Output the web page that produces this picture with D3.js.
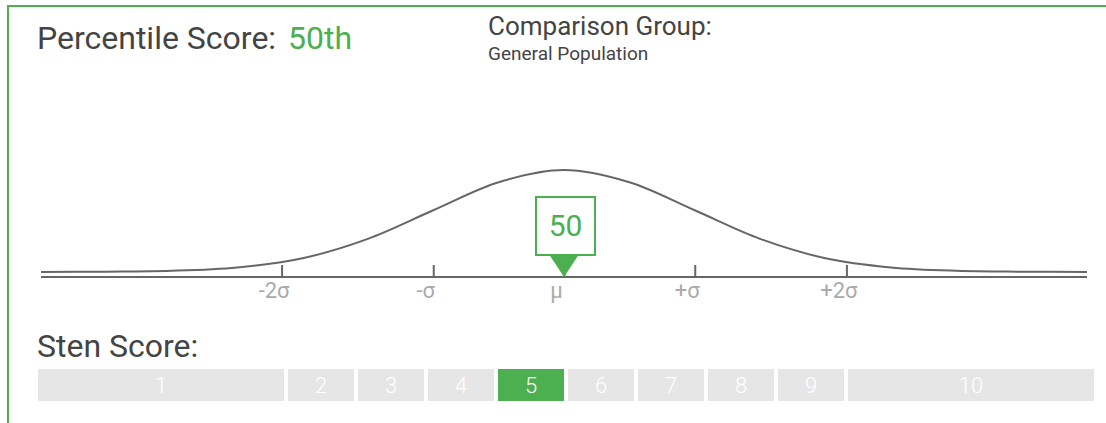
<!DOCTYPE html>
<html>
<head>
<meta charset="utf-8">
<script src="https://cdn.jsdelivr.net/npm/d3@7"></script>
<style>
  body { margin: 0; background: #fff; }
  text { font-family: Roboto, "Noto Sans", sans-serif; }
</style>
</head>
<body>
<script>
// Percentile / sten score card

// data
var percentile = 50;
var percentileZ = 0;          // position of the score on the sigma axis
var stenScore = 5;
var comparisonGroup = "General Population";

// bell curve (sigma, height relative to peak)
var curveZ = [-4, -3.5, -3, -2.5, -2, -1.5, -1, -0.5, 0, 0.5, 1, 1.5, 2, 2.5, 3, 3.5, 4];
var curveH = [0, 0.003, 0.012, 0.045, 0.135, 0.325, 0.605, 0.88, 1, 0.88, 0.605, 0.325, 0.135, 0.045, 0.012, 0.003, 0];

// axis ticks
var tickZ = [-2.16, -1, 0, 1, 2.16];
var tickLabels = ["-2\u03c3", "-\u03c3", "\u03bc", "+\u03c3", "+2\u03c3"];

// sten bands
var stenLabels = ["1", "2", "3", "4", "5", "6", "7", "8", "9", "10"];
var stenWeights = [25, 7, 7, 7, 7, 7, 7, 7, 7, 25];

// Width and height
var w = 1106;
var h = 423;
var green = "#4caf50";

var svg = d3.select("body")
    .append("svg")
    .attr("width", w)
    .attr("height", h);

// card border (top and left visible)
svg.append("line")
    .attr("x1", 7).attr("x2", w)
    .attr("y1", 6).attr("y2", 6)
    .style("stroke", green).style("stroke-width", 2);
svg.append("line")
    .attr("x1", 8).attr("x2", 8)
    .attr("y1", 5).attr("y2", h)
    .style("stroke", green).style("stroke-width", 2);

// headings
var title = svg.append("text")
    .attr("x", 37)
    .attr("y", 49)
    .style("font-size", "32px")
    .style("fill", "#444");
title.append("tspan").text("Percentile Score:");
title.append("tspan")
    .attr("dx", 12)
    .style("fill", green)
    .text(percentile + "th");

svg.append("text")
    .attr("x", 488)
    .attr("y", 35)
    .style("font-size", "26px")
    .style("fill", "#444")
    .text("Comparison Group:");

svg.append("text")
    .attr("x", 488)
    .attr("y", 60)
    .style("font-size", "19px")
    .style("fill", "#444")
    .text(comparisonGroup);

// Scale functions
var xScale = d3.scaleLinear()
    .domain([-4, 4])
    .range([41, 1087]);

var yScale = d3.scaleLinear()
    .domain([0, 1])
    .range([272, 170]);

var axisY = 277;

// bell curve
var line = d3.line()
    .curve(d3.curveCatmullRom)
    .x(function(d, i) { return xScale(curveZ[i]); })
    .y(function(d) { return yScale(d); });

svg.append("path")
    .datum(curveH)
    .attr("d", line)
    .style("fill", "none")
    .style("stroke", "#666")
    .style("stroke-width", 2);

// sigma axis
var xAxis = d3.axisBottom(xScale)
    .tickValues(tickZ)
    .tickSize(0)
    .tickFormat(function(d, i) { return tickLabels[i]; });

var gAxis = svg.append("g")
    .attr("transform", "translate(0," + axisY + ")")
    .call(xAxis);
gAxis.select(".domain")
    .attr("d", "M" + xScale(-4) + ",0H" + xScale(4))
    .style("stroke", "#666")
    .style("stroke-width", 2);
gAxis.selectAll(".tick line")
    .attr("y2", -12)
    .style("stroke", "#666")
    .style("stroke-width", 2);
gAxis.selectAll(".tick text")
    .attr("y", 21)
    .attr("dy", 0)
    .attr("dx", -8)
    .style("font-family", "Roboto, sans-serif")
    .style("font-size", "22px")
    .style("fill", "#aaa");

// score marker
var mx = xScale(percentileZ);
var marker = svg.append("g");
marker.append("path")
    .attr("d", "M" + (mx - 14.5) + "," + 255 + "L" + (mx + 14.5) + "," + 255 + "L" + mx + "," + axisY + "Z")
    .style("fill", green);
marker.append("rect")
    .attr("x", mx - 28)
    .attr("y", 197)
    .attr("width", 59)
    .attr("height", 58)
    .style("fill", "#fff")
    .style("stroke", green)
    .style("stroke-width", 2);
marker.append("text")
    .attr("x", mx + 1.5)
    .attr("y", 236)
    .attr("text-anchor", "middle")
    .style("font-size", "30px")
    .style("fill", green)
    .text(percentile);

// sten score
svg.append("text")
    .attr("x", 37)
    .attr("y", 357)
    .style("font-size", "32px")
    .style("fill", "#444")
    .text("Sten Score:");

var cum = [0];
stenWeights.forEach(function(d, i) { cum.push(cum[i] + d); });

var stenScale = d3.scaleLinear()
    .domain([0, cum[cum.length - 1]])
    .range([38, 1098]);

var gap = 4;
var sten = svg.selectAll(".sten")
    .data(stenLabels)
    .enter().append("g")
    .attr("class", "sten");

sten.append("rect")
    .attr("x", function(d, i) { return stenScale(cum[i]); })
    .attr("y", 369)
    .attr("width", function(d, i) { return stenScale(cum[i + 1]) - stenScale(cum[i]) - gap; })
    .attr("height", 32)
    .style("fill", function(d, i) { return (i + 1) == stenScore ? green : "#e6e6e6"; });

sten.append("text")
    .attr("x", function(d, i) { return (stenScale(cum[i]) + stenScale(cum[i + 1]) - gap) / 2; })
    .attr("y", 393)
    .attr("text-anchor", "middle")
    .style("font-size", "22px")
    .style("font-weight", 300)
    .style("fill", "#fff")
    .text(function(d) { return d; });
</script>
</body>
</html>
